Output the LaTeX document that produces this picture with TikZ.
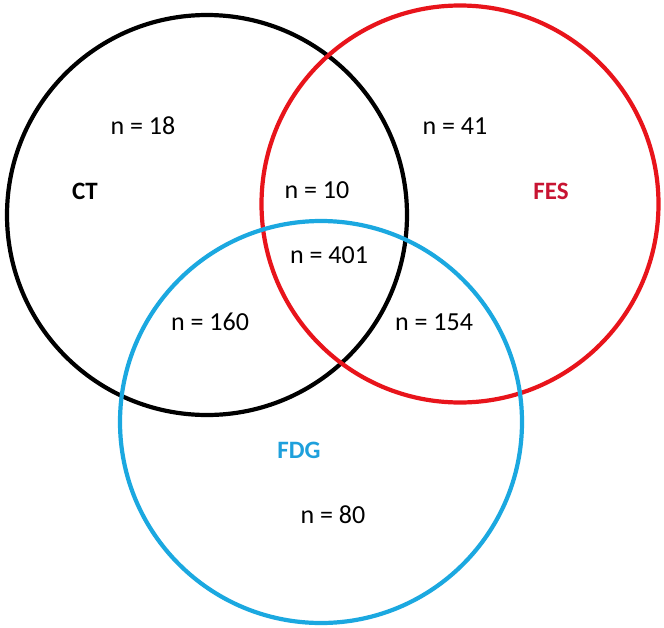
\documentclass[tikz,border=0pt]{standalone}
\usepackage{fontspec}
\setmainfont{Carlito}
\definecolor{ctc}{RGB}{0,0,0}
\definecolor{fesc}{RGB}{232,20,27}
\definecolor{fdgc}{RGB}{27,168,224}
\definecolor{fest}{RGB}{200,20,50}
\definecolor{fdgt}{RGB}{30,160,220}
\begin{document}
\begin{tikzpicture}[x=1pt,y=-1pt,
  ring/.style={line width=4.2pt},
  num/.style={font=\fontsize{26}{30}\selectfont, text=black, inner sep=0pt},
  setname/.style={font=\fontsize{25}{29}\selectfont\bfseries, inner sep=0pt}]
\useasboundingbox (0,0) rectangle (664,627);
\fill[white] (0,0) rectangle (664,627);
\node[draw=ctc, ring, circle, minimum size=400pt, inner sep=0pt] (ct) at (207,215) {};
\node[draw=fesc, ring, circle, minimum size=397pt, inner sep=0pt] (fes) at (460,204) {};
\node[draw=fdgc, ring, circle, minimum size=402pt, inner sep=0pt] (fdg) at (321,422) {};
\node[num] (a) at (143,126) {n = 18};
\node[setname, text=black] (lct) at (85,191) {CT};
\node[num] (b) at (317,190) {n = 10};
\node[num] (c) at (455,126) {n = 41};
\node[setname, text=fest] (lfes) at (551,191) {FES};
\node[num] (d) at (329,255) {n = 401};
\node[num] (e) at (210,322) {n = 160};
\node[num] (f) at (434,322) {n = 154};
\node[setname, text=fdgt] (lfdg) at (299,450) {FDG};
\node[num] (g) at (333,515) {n = 80};
\end{tikzpicture}
\end{document}
